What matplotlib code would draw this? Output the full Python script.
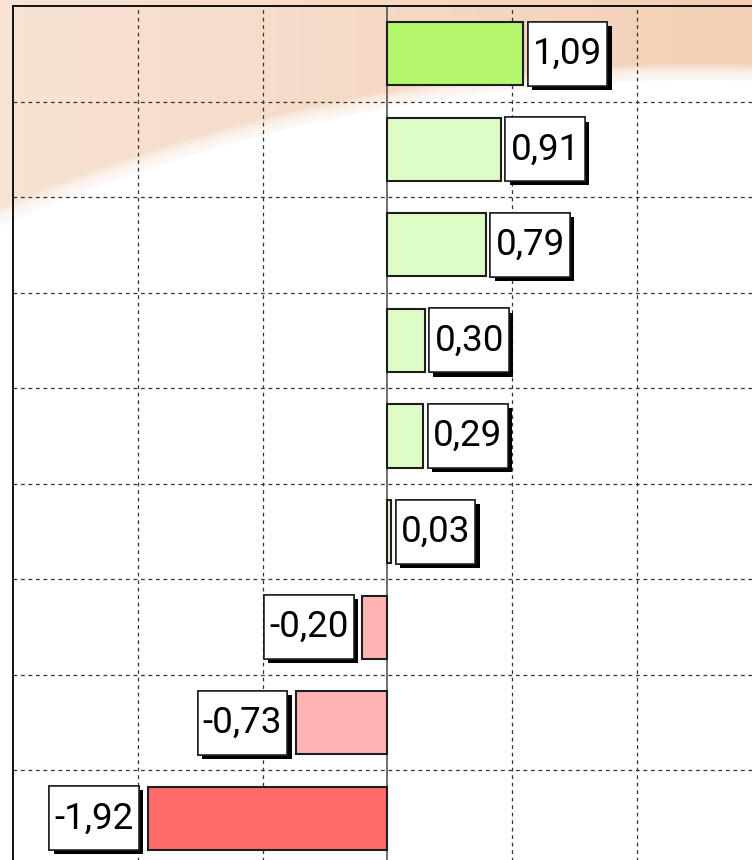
import numpy as np
import matplotlib
matplotlib.use("Agg")
import matplotlib.pyplot as plt
import matplotlib.patheffects as pe
from matplotlib.patches import Circle
from matplotlib.path import Path
from matplotlib.colors import LinearSegmentedColormap

# valores (de arriba hacia abajo)
values = [1.09, 0.91, 0.79, 0.30, 0.29, 0.03, -0.20, -0.73, -1.92]
labels = ["1,09", "0,91", "0,79", "0,30", "0,29", "0,03", "-0,20", "-0,73", "-1,92"]
colors = ["#b3f76c", "#ddfcc6", "#ddfcc6", "#ddfcc6", "#ddfcc6", "#ddfcc6",
          "#ffb4b4", "#ffb4b4", "#ff6b6b"]
x_ticks = [-3, -2, -1, 0, 1, 2]

plt.rcParams['font.family'] = ['Roboto', 'DejaVu Sans']

fig = plt.figure(figsize=(7.52, 8.60), dpi=100)

# fondo: degradado durazno con arco blanco
bg = fig.add_axes([0, 0, 1, 1], zorder=-10)
grad = np.linspace(0, 1, 256).reshape(1, -1)
cmap = LinearSegmentedColormap.from_list("peach", ["#f8e3d4", "#f3d0b6"])
bg.imshow(grad, cmap=cmap, aspect="auto", extent=[0, 752, 0, 860])
for r in range(1764, 1748, -2):
    bg.add_patch(Circle((699, -968), r, facecolor="white", edgecolor="none", alpha=0.22))
bg.add_patch(Circle((699, -968), 1748, facecolor="white", edgecolor="none"))
bg.set_xlim(0, 752)
bg.set_ylim(0, 860)
bg.axis("off")


# caja de etiqueta: mas alta que ancha (relleno distinto en x y en y)
def caja(x0, y0, width, height, mutation_size):
    px = 0.14 * mutation_size
    py = 0.38 * mutation_size
    x0, y0 = x0 - px, y0 - py
    x1, y1 = x0 + width + 2 * px, y0 + height + 2 * py
    return Path([(x0, y0), (x1, y0), (x1, y1), (x0, y1), (x0, y0)], closed=True)


# ejes del grafico
ax = fig.add_axes([13 / 752, -6 / 860, 1 - 13 / 752, 1.0])
ax.set_facecolor("none")
pos = np.arange(len(values))

ax.barh(pos, values, height=0.66, color=colors, edgecolor="#1e1e1e",
        linewidth=1.5, zorder=3)

ax.set_xlim(-3, (752 - 387.5) / 124.67)
ax.set_ylim(len(values) - 0.5, -0.5)

# grilla
for xv in x_ticks[1:]:
    if xv == 0:
        ax.axvline(0, color="#555555", lw=1.2, zorder=2)
    else:
        ax.axvline(xv, color="#333333", lw=0.9, ls=(0, (3, 3)), zorder=1)
for yv in pos[1:] - 0.5:
    ax.axhline(yv, color="#333333", lw=0.9, ls=(0, (3, 3)), zorder=1)

ax.set_xticks([])
ax.set_yticks([])
ax.spines["right"].set_visible(False)
ax.spines["bottom"].set_visible(False)
ax.spines["left"].set_color("black")
ax.spines["top"].set_color("black")
ax.spines["left"].set_linewidth(1.3)
ax.spines["top"].set_linewidth(1.3)

# etiquetas con caja y sombra
for p, v, lab in zip(pos, values, labels):
    if v >= 0:
        off, ha = 7.0, "left"
    else:
        off, ha = -10.0, "right"
    t = ax.annotate(lab, xy=(v, p), xytext=(off, 0), textcoords="offset points",
                    ha=ha, va="center", fontsize=26.5, color="black", zorder=5,
                    bbox=dict(boxstyle=caja, facecolor="white",
                              edgecolor="#1a1a1a", linewidth=1.1))
    t.get_bbox_patch().set_path_effects([
        pe.withSimplePatchShadow(offset=(3, -3), shadow_rgbFace="black", alpha=1.0),
        pe.Normal()])

fig.savefig("out.png", dpi=100)
